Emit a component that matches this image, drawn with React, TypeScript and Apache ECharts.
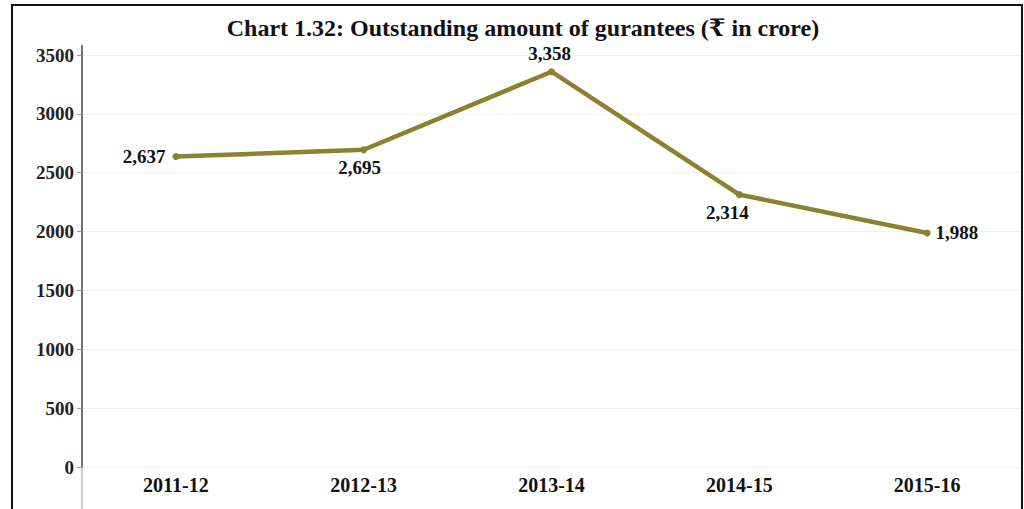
import React, { useEffect, useRef } from "react";
import * as echarts from "echarts";

const categories = ["2011-12", "2012-13", "2013-14", "2014-15", "2015-16"];
const values = [2637, 2695, 3358, 2314, 1988];
const labelPositions = ["left", "bottom", "top", "bottom", "right"];
const labelOffsets = [[-2, 0], [-4, 0], [-2, 0], [-12, 0], [0, 0]];
const yTicks = [0, 500, 1000, 1500, 2000, 2500, 3000, 3500];
const titleText = "Chart 1.32: Outstanding amount of gurantees (₹ in crore)";

const SERIF = "'Liberation Serif', 'DejaVu Serif', serif";

export default function App() {
  const ref = useRef<HTMLDivElement>(null);
  useEffect(() => {
    if (!ref.current) return;
    const chart = echarts.init(ref.current, null, { renderer: "svg" });
    chart.setOption({
      animation: false,
      backgroundColor: "#ffffff",
      title: {
        text: titleText,
        left: 518,
        textAlign: "center",
        top: 11,
        textStyle: { fontFamily: SERIF, fontWeight: "bold", fontSize: 24, color: "#111" },
      },
      grid: { left: 82, right: 3, top: 55, bottom: 42 },
      xAxis: {
        type: "category",
        data: categories,
        boundaryGap: true,
        axisLine: { show: false },
        axisTick: { show: false },
        axisLabel: {
          fontFamily: SERIF,
          fontWeight: "bold",
          fontSize: 20,
          color: "#111",
          margin: 8,
        },
      },
      yAxis: {
        type: "value",
        min: yTicks[0],
        max: yTicks[yTicks.length - 1],
        interval: 500,
        axisLine: { show: true, lineStyle: { color: "#444", width: 1.5 } },
        axisTick: { show: true, length: 5, lineStyle: { color: "#999" } },
        splitLine: { show: true, lineStyle: { color: "#f2f2f2" } },
        axisLabel: {
          fontFamily: SERIF,
          fontWeight: "bold",
          fontSize: 19,
          color: "#222",
          margin: 8,
          formatter: (v: number) => String(v),
        },
      },
      graphic: [
        {
          type: "rect",
          shape: { x: 12, y: 5, width: 1010, height: 520 },
          style: { fill: "none", stroke: "#111", lineWidth: 2 },
          silent: true,
        },
        {
          type: "line",
          shape: { x1: 82, y1: 45, x2: 82, y2: 56 },
          style: { stroke: "#444", lineWidth: 1.5 },
          silent: true,
        },
        {
          type: "line",
          shape: { x1: 82, y1: 467, x2: 82, y2: 509 },
          style: { stroke: "#bbb", lineWidth: 1.5 },
          silent: true,
        },
      ],
      series: [
        {
          type: "line",
          data: values.map((v, i) => ({
            value: v,
            label: { position: labelPositions[i], offset: labelOffsets[i] },
          })),
          symbol: "circle",
          symbolSize: 7,
          lineStyle: { color: "#8e812e", width: 4.5 },
          itemStyle: { color: "#8e812e" },
          label: {
            show: true,
            fontFamily: SERIF,
            fontWeight: "bold",
            fontSize: 19,
            color: "#111",
            distance: 5,
            formatter: (p: any) => Number(p.value).toLocaleString("en-US"),
          },
        },
      ],
    });
    return () => chart.dispose();
  }, []);
  return (
    <div
      ref={ref}
      style={{ position: "fixed", left: 0, top: 0, width: 1024, height: 509 }}
    />
  );
}
